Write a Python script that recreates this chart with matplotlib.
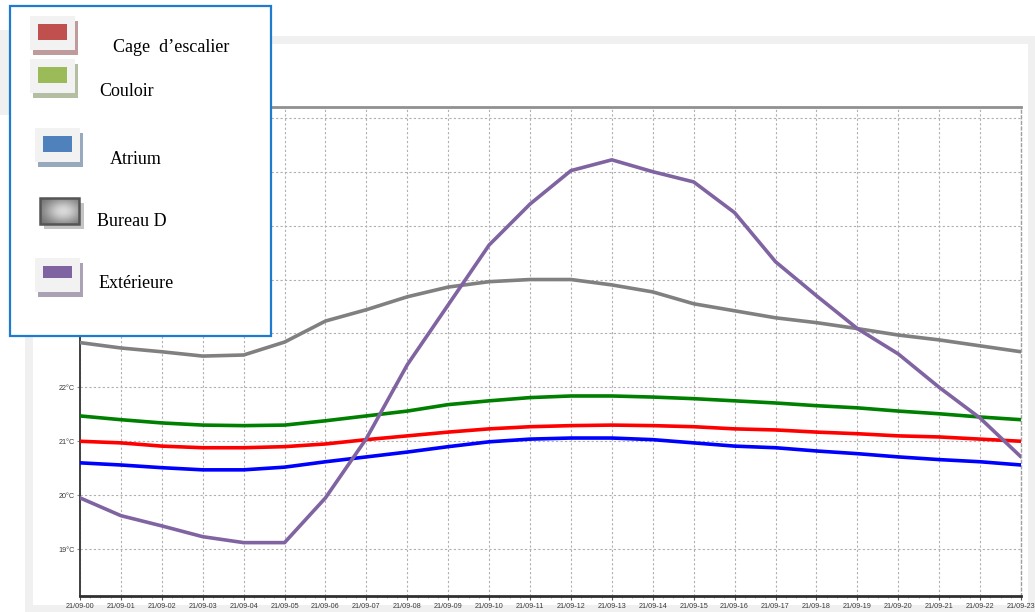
import numpy as np
import matplotlib
matplotlib.use("Agg")
import matplotlib.pyplot as plt
from matplotlib.patches import Rectangle

# Hourly temperatures, 21 September (°C)
hours = list(range(24))
hour_labels = [f"21/09-{h:02d}" for h in hours]
temp_ticks = [19, 20, 21, 22, 23, 24, 25, 26, 27]
temp_labels = [f"{t}°C" for t in temp_ticks]

cage_escalier = [21.00, 20.97, 20.91, 20.88, 20.88, 20.90, 20.95, 21.03, 21.10, 21.17,
                 21.23, 21.27, 21.29, 21.30, 21.29, 21.27, 21.23, 21.21, 21.17, 21.14,
                 21.10, 21.08, 21.04, 21.00]
couloir = [21.47, 21.40, 21.34, 21.30, 21.29, 21.30, 21.38, 21.47, 21.56, 21.68,
           21.75, 21.81, 21.84, 21.84, 21.82, 21.79, 21.75, 21.71, 21.66, 21.62,
           21.56, 21.51, 21.45, 21.40]
atrium = [20.60, 20.56, 20.51, 20.47, 20.47, 20.52, 20.62, 20.71, 20.80, 20.90,
          20.99, 21.04, 21.06, 21.06, 21.03, 20.97, 20.91, 20.88, 20.82, 20.77,
          20.71, 20.66, 20.62, 20.56]
bureau_d = [22.83, 22.73, 22.66, 22.58, 22.60, 22.84, 23.23, 23.44, 23.68, 23.86,
            23.96, 24.00, 24.00, 23.90, 23.77, 23.55, 23.42, 23.29, 23.20, 23.09,
            22.97, 22.88, 22.77, 22.66]
exterieure = [19.95, 19.62, 19.43, 19.23, 19.12, 19.12, 19.95, 21.05, 22.42, 23.53,
              24.64, 25.40, 26.02, 26.22, 26.00, 25.81, 25.24, 24.33, 23.70, 23.09,
              22.62, 22.00, 21.43, 20.71]

series = [
    ("Cage  d\u2019escalier", cage_escalier, "#ff0000"),
    ("Couloir", couloir, "#008000"),
    ("Atrium", atrium, "#0000ff"),
    ("Bureau D", bureau_d, "#808080"),
    ("Extérieure", exterieure, "#8064a2"),
]

W, H = 1035, 612
fig = plt.figure(figsize=(W / 100, H / 100), dpi=100)
fig.patch.set_facecolor("white")

# Background frame, drawn in pixel coordinates
bg = fig.add_axes([0, 0, 1, 1], zorder=0)
bg.set_xlim(0, W)
bg.set_ylim(H, 0)
bg.axis("off")
bg.add_patch(Rectangle((25, 36), W - 25, H - 36, facecolor="#f0f0f0", edgecolor="none"))
bg.add_patch(Rectangle((33, 44), 1028 - 33, 605 - 44, facecolor="white", edgecolor="none"))
bg.add_patch(Rectangle((0, 30), 9, 85, facecolor="#f0f0f0", edgecolor="none"))

# Plot area
x0, x1, y0, y1 = 80, 1021, 107, 596
ax = fig.add_axes([x0 / W, 1 - y1 / H, (x1 - x0) / W, (y1 - y0) / H], zorder=1)
ax.set_facecolor("white")
for name, vals, color in series:
    ax.plot(hours, vals, color=color, lw=2.6, solid_capstyle="round", zorder=3)

ax.set_xlim(0, 23)
ax.set_ylim(18.13, 27.2)
ax.set_xticks(hours)
ax.set_xticklabels(hour_labels, fontsize=5.2, color="#3a3a3a", family="Liberation Sans")
ax.set_xticks(np.arange(0, 23, 0.25), minor=True)
ax.set_yticks(temp_ticks)
ax.set_yticklabels(temp_labels, fontsize=5.2, color="#3a3a3a", family="Liberation Sans")
ax.tick_params(axis="x", which="major", length=3, width=0.8, color="#555555", pad=2)
ax.tick_params(axis="x", which="minor", length=1.5, width=0.5, color="#888888")
ax.tick_params(axis="y", length=2.5, width=0.8, color="#888888", pad=1.5)
ax.grid(True, which="major", color="#b0b0b0", linestyle=(0, (2, 2)), lw=0.8)
ax.set_axisbelow(True)

ax.spines["left"].set_color("#404040")
ax.spines["left"].set_linewidth(1.4)
ax.spines["bottom"].set_color("#303030")
ax.spines["bottom"].set_linewidth(2.0)
ax.spines["top"].set_color("#909090")
ax.spines["top"].set_linewidth(2.0)
ax.spines["right"].set_color("#a0a0a0")
ax.spines["right"].set_linewidth(1.0)
ax.spines["right"].set_linestyle((0, (2, 2)))

# Legend box
lg = fig.add_axes([0, 0, 1, 1], zorder=5)
lg.set_xlim(0, W)
lg.set_ylim(H, 0)
lg.axis("off")
lg.patch.set_alpha(0)
lg.add_patch(Rectangle((9.5, 6), 261, 330, facecolor="white", edgecolor="#1e7bd0", lw=1.6))


def swatch(x, y, color, shadow, h_inner=16):
    lg.add_patch(Rectangle((x + 3, y + 5), 45, 34, facecolor=shadow, edgecolor="none"))
    lg.add_patch(Rectangle((x, y), 45, 34, facecolor="#f2f2f2", edgecolor="none"))
    lg.add_patch(Rectangle((x + 8, y + 8), 29, h_inner, facecolor=color, edgecolor="none"))


swatch(30, 16, "#c0504d", "#bf9b9b")
swatch(30, 59, "#9bbb59", "#b3bea3")
swatch(35, 128, "#4f81bd", "#98a9be")
swatch(35, 258, "#8064a2", "#aaa1b5", h_inner=12)

# Gradient swatch with shadow
lg.add_patch(Rectangle((44, 203), 40, 26, facecolor="#c4c4c4", edgecolor="none"))
gx = np.linspace(0, 1, 60)
gy = np.linspace(0, 1, 40)
GX, GY = np.meshgrid(gx, gy)
grad = 0.40 + 0.45 * np.exp(-((GX - 0.6) ** 2 + (GY - 0.5) ** 2) * 4)
lg.imshow(grad, cmap="gray", vmin=0, vmax=1, extent=(40, 79, 224, 198),
          aspect="auto", zorder=2, interpolation="bilinear")
lg.add_patch(Rectangle((40, 198), 39, 26, facecolor="none", edgecolor="#555555", lw=1.8, zorder=3))
lg.set_xlim(0, W)
lg.set_ylim(H, 0)

text_pos = [(113, 48, "Cage  d\u2019escalier"), (99, 91, "Couloir"), (110, 160, "Atrium"),
            (97, 221, "Bureau D"), (99, 284, "Extérieure")]
for tx, ty, label in text_pos:
    lg.text(tx, ty, label, fontsize=13, family="Liberation Serif", color="black",
            va="center", ha="left", zorder=4)

fig.savefig("out.png", dpi=100)
